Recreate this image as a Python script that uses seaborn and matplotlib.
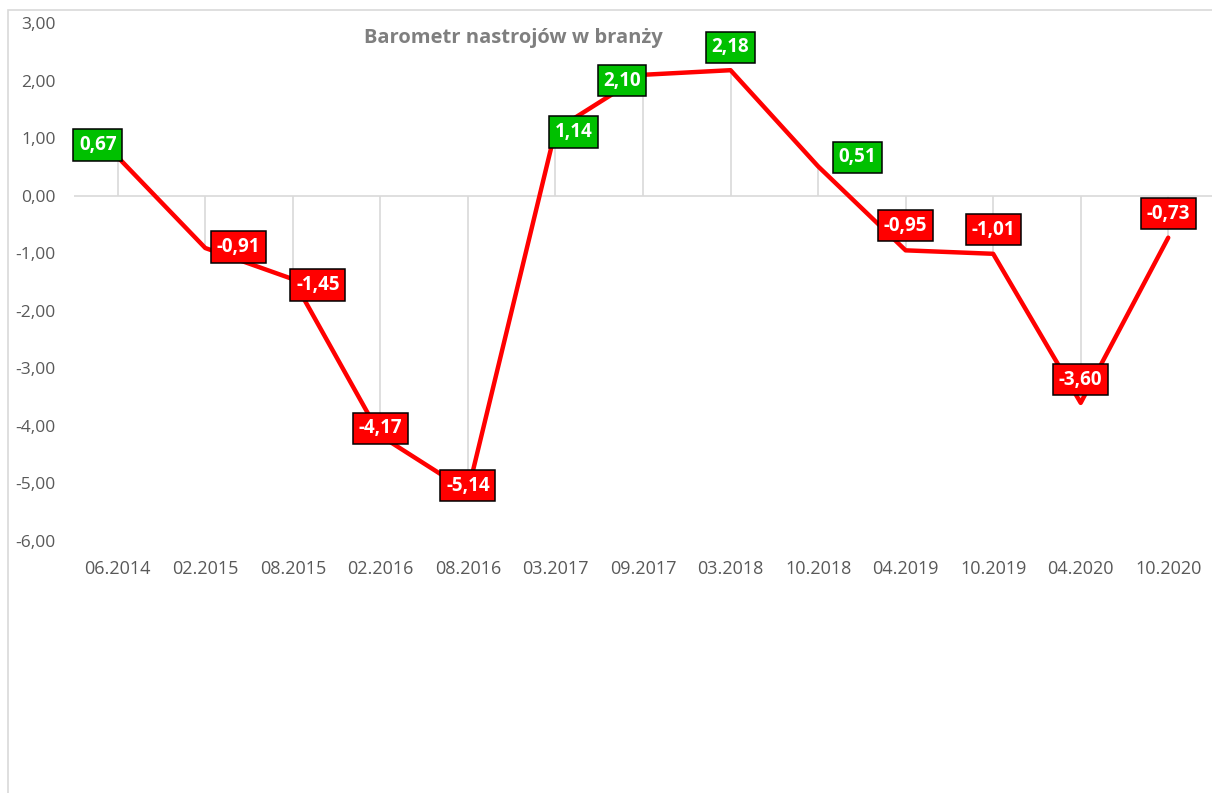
import matplotlib
matplotlib.use("Agg")
import matplotlib.pyplot as plt
import seaborn as sns
import pandas as pd
import numpy as np
from matplotlib.patches import Rectangle
from matplotlib.ticker import FuncFormatter, FixedLocator

# ---- data ----
periods = ["06.2014", "02.2015", "08.2015", "02.2016", "08.2016", "03.2017", "09.2017",
           "03.2018", "10.2018", "04.2019", "10.2019", "04.2020", "10.2020"]
values = [0.67, -0.91, -1.45, -4.17, -5.14, 1.14, 2.10, 2.18, 0.51, -0.95, -1.01, -3.60, -0.73]
title = "Barometr nastrojów w branży"
y_ticks = [3, 2, 1, 0, -1, -2, -3, -4, -5, -6]

# label offsets in pixels (dx, dy; dy positive = up)
label_offsets = [(-20, 12), (33, 1), (25, -6), (0, 7.5), (0, 6), (18.5, -2), (-21, -6),
                 (0, 23), (39, 9), (0, 24.5), (0, 24), (0, 23), (0, 24)]

sns.set_theme(style="white")
plt.rcParams['font.family'] = ['Open Sans', 'DejaVu Sans']

W, H = 1212, 793
fig = plt.figure(figsize=(W / 100, H / 100), dpi=100)
fig.patch.set_facecolor("white")

# chart area border
fig.add_artist(Rectangle((8 / W, -0.1), 1.2, 1 - 10 / H + 0.1, transform=fig.transFigure,
                         fill=False, edgecolor="#d9d9d9", linewidth=1.2))

left, right, top, bottom = 74 / W, 1.0, 1 - 23 / H, 1 - 541 / H
ax = fig.add_axes([left, bottom, right - left, top - bottom])
ax.set_facecolor("none")

df = pd.DataFrame({"period": periods, "value": values})
x = np.arange(len(periods))

# zero line and drop lines
ax.axhline(0, color="#d9d9d9", linewidth=1.2, zorder=1)
ax.vlines(x, 0, df["value"], color="#d9d9d9", linewidth=1.2, zorder=1)

sns.lineplot(data=df, x="period", y="value", sort=False, color="#ff0000",
             linewidth=3.2, ax=ax, zorder=3)

for xi, v, (dx, dy) in zip(x, values, label_offsets):
    fc = "#00c000" if v >= 0 else "#ff0000"
    ax.annotate(f"{v:.2f}".replace(".", ","), xy=(xi, v), xytext=(dx * 0.72, dy * 0.72),
                textcoords="offset points", ha="center", va="center",
                fontsize=13.5, fontweight="bold", color="white", zorder=5,
                bbox=dict(boxstyle="square,pad=0.3", fc=fc, ec="black", lw=1.1))

ax.set_xlim(-0.5, len(periods) - 0.5)
ax.set_ylim(-6, 3)
ax.yaxis.set_major_locator(FixedLocator(y_ticks))
ax.yaxis.set_major_formatter(FuncFormatter(lambda v, p: f"{v:.2f}".replace(".", ",")))
ax.set_xticks(x)
ax.set_xticklabels(periods)
ax.tick_params(axis="y", labelsize=12.5, labelcolor="#595959", pad=13, length=0)
ax.tick_params(axis="x", labelsize=13, labelcolor="#595959", pad=14, length=0)
ax.set_xlabel("")
ax.set_ylabel("")
for s in ax.spines.values():
    s.set_visible(False)
ax.grid(False)

fig.text(513 / W, 1 - 38 / H, title, ha="center", va="center", fontsize=14.5,
         fontweight="bold", color="#7f7f7f")

fig.savefig("out.png", dpi=100)
